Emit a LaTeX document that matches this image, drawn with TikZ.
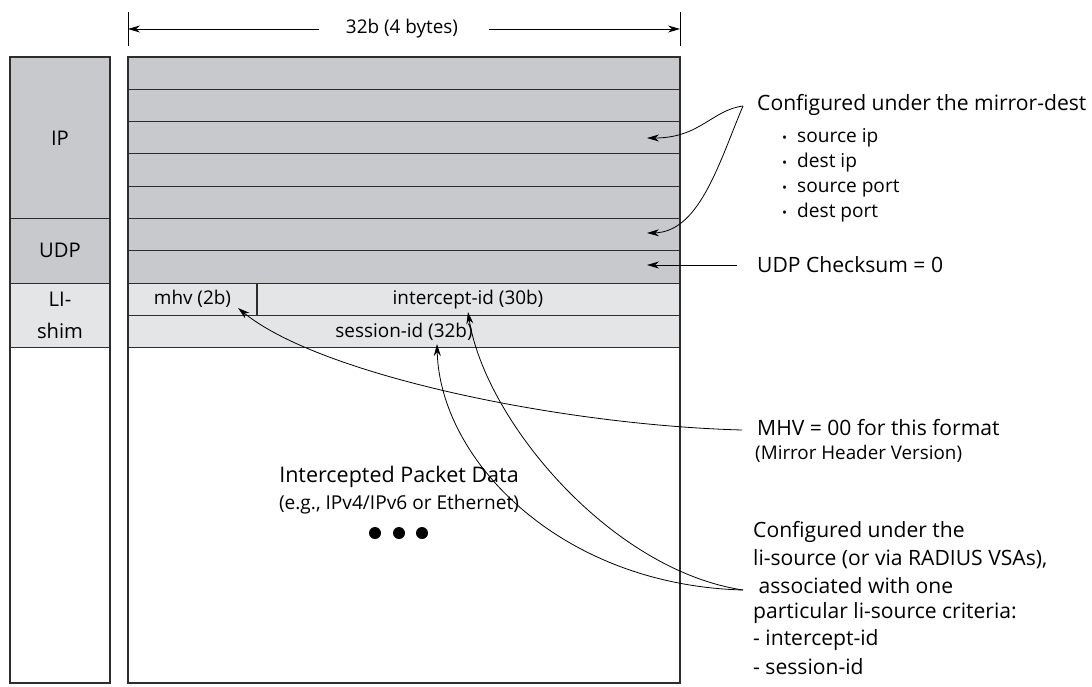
\documentclass[tikz,border=0pt]{standalone}
\usepackage{fontspec}
\setmainfont{Open Sans}
\usetikzlibrary{positioning, arrows.meta}
\definecolor{hdrgray}{RGB}{200,201,204}
\definecolor{shimgray}{RGB}{228,229,231}
\definecolor{edge}{RGB}{45,45,45}

\begin{document}
\begin{tikzpicture}[x=1pt,y=-1pt,
    frame/.style={draw=edge,line width=2pt},
    rowline/.style={draw=edge,line width=1.1pt},
    ptr/.style={-{Stealth[length=12pt,width=7pt]},line width=0.8pt},
    lbl/.style={font=\fontsize{18.9}{20}\selectfont,inner sep=0pt},
    note/.style={anchor=west,font=\fontsize{21.1}{24}\selectfont,inner sep=0pt},
    small/.style={anchor=west,font=\fontsize{18.8}{20}\selectfont,inner sep=0pt}]
    \useasboundingbox (0,0) rectangle (1092,686);

    %塗り
    \fill[hdrgray](10,57)rectangle(110,283.1);
    \fill[shimgray](10,283.1)rectangle(110,347.7);
    \fill[hdrgray](128,57)rectangle(680,283.1);
    \fill[shimgray](128,283.1)rectangle(680,347.7);

    %行の線
    \foreach\k in{1,...,9}\draw[rowline](128,57+32.3*\k)--(680,57+32.3*\k);
    \foreach\y in{218.5,283.1,347.7}\draw[rowline](10,\y)--(110,\y);
    \draw[rowline](257,283.1)--(257,315.4);
    \draw[frame](10,57)rectangle(110,683);
    \draw[frame](128,57)rectangle(680,683);

    %左の列
    \node[lbl,font=\fontsize{20.2}{22}\selectfont](ip)at(60,138){IP};
    \node[lbl,font=\fontsize{20.2}{22}\selectfont](udp)at(60,250.8){UDP};
    \node[lbl,align=center,font=\fontsize{20.2}{32}\selectfont](shim)at(60,315.4){LI-\\shim};

    %幅の表示
    \node[lbl](width)at(402,29){32b (4 bytes)};
    \coordinate(tl)at(128,29);%左端
    \coordinate(tr)at(680,29);%右端
    \draw[line width=0.8pt](128,12)--(128,46) (680,12)--(680,46);
    \draw[ptr]([xshift=-27pt]width.west)--(tl);
    \draw[ptr]([xshift=31pt]width.east)--(tr);

    %フィールド
    \node[lbl](mhv)at(192.5,299.3){mhv (2b)};
    \node[lbl](iid)at(468,299.3){intercept-id (30b)};
    \node[lbl](sid)at(404,331.5){session-id (32b)};

    %データ
    \node[lbl,font=\fontsize{21.5}{24}\selectfont](data)at(399,477){Intercepted Packet Data};
    \node[lbl,font=\fontsize{19.1}{20}\selectfont](eg)at(399,505){(e.g., IPv4/IPv6 or Ethernet)};
    \foreach\x in{375,399,422}\fill(\x,533)circle(6);

    %右の注記
    \node[note](md)at(757,105){Configured under the mirror-dest};
    \foreach\t[count=\i]in{source ip,dest ip,source port,dest port}
        \node[small,font=\fontsize{19.1}{20}\selectfont](it\i)at(782,{113+25*\i}){\scalebox{0.7}{\textbullet}\hspace{10pt}\t};
    \node[note](cks)at(757,265){UDP Checksum = 0};
    \node[note](mhvnote)at(757,428){MHV = 00 for this format};
    \node[small](mhvsub)at(755,454){(Mirror Header Version)};
    \foreach\t[count=\i]in{{Configured under the},{li-source (or via RADIUS VSAs),},{\ associated with one},{particular li-source criteria:},{- intercept-id},{- session-id}}
        \node[note](li\i)at(753,{532+27*(\i-1)}){\t};

    %矢印の始点と先
    \coordinate(mdsrc)at(743,106);
    \coordinate(cksrc)at(737,265);
    \coordinate(mhvsrc)at(742,430);
    \coordinate(lisrc)at(743,590);
    \coordinate(row3)at(647,138);
    \coordinate(row7)at(647,233);
    \coordinate(row8)at(647,265);
    \coordinate(mhvtip)at(238,308);
    \coordinate(iidtip)at(468,312);
    \coordinate(sidtip)at(437,344);

    \draw[ptr](mdsrc)..controls(712,110)and(700,138)..(row3);
    \draw[ptr](mdsrc)..controls(720,160)and(700,232)..(row7);
    \draw[ptr](cksrc)--(row8);
    \draw[ptr](mhvsrc)..controls(560,425)and(320,375)..(mhvtip);
    \draw[ptr](lisrc)..controls(610,570)and(485,420)..(iidtip);
    \draw[ptr](lisrc)..controls(560,585)and(440,460)..(sidtip);
\end{tikzpicture}
\end{document}
